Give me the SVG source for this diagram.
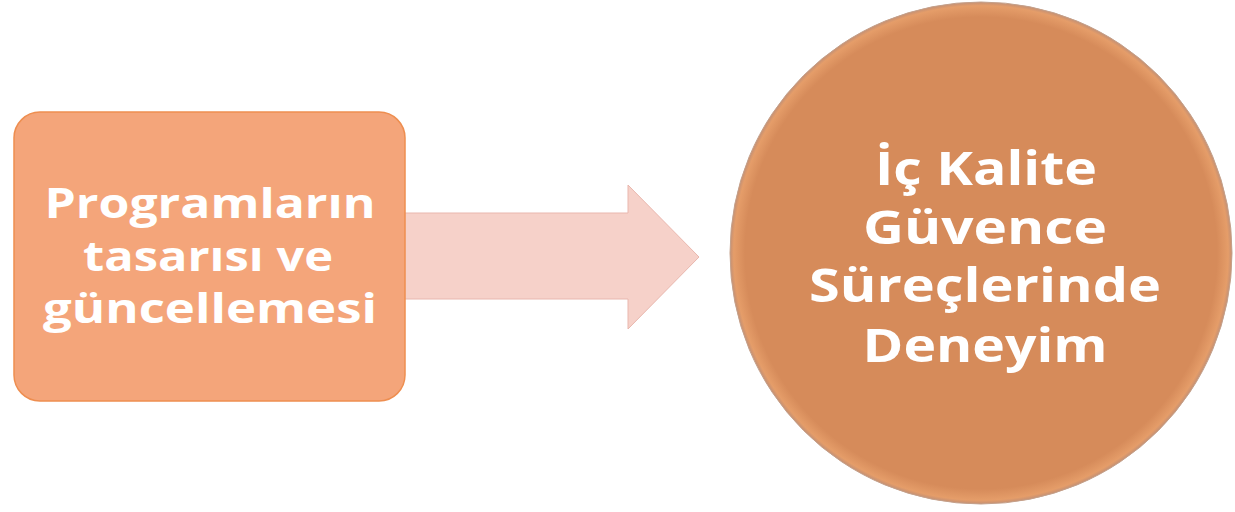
<svg xmlns="http://www.w3.org/2000/svg" width="1235" height="512" viewBox="0 0 1235 512">
<style>
.lbl{font-family:"Open Sans","Liberation Sans",sans-serif;font-weight:700;fill:#FFFFFF;text-anchor:middle}
.box{fill:#F4A57A;stroke:#EE8E50;stroke-width:1.5}
.arrow{fill:#F6D1C9;stroke:#E9B7AE;stroke-width:1}
.circ{fill:url(#cg);stroke:#C4A08A;stroke-width:1}
</style>
<defs>
<radialGradient id="cg" cx="0.5" cy="0.5" r="0.5">
<stop offset="0" stop-color="#D68B5A"/>
<stop offset="0.94" stop-color="#D68B5A"/>
<stop offset="0.985" stop-color="#E59D69"/>
<stop offset="1" stop-color="#C49074"/>
</radialGradient>
</defs>
<g id="connectors">
<path class="arrow" d="M400,213 L628,213 L628,185 L699,257 L628,329 L628,299 L400,299 Z"/>
</g>
<g id="node-programs">
<rect class="box" x="14" y="112" width="391" height="289" rx="26" ry="26"/>
<text class="lbl" font-size="42" x="210" y="218" textLength="331" lengthAdjust="spacingAndGlyphs">Programların</text>
<text class="lbl" font-size="42" x="208" y="271" textLength="250" lengthAdjust="spacingAndGlyphs">tasarısı ve</text>
<text class="lbl" font-size="42" x="210" y="323" textLength="334" lengthAdjust="spacingAndGlyphs">güncellemesi</text>
</g>
<g id="node-quality">
<circle class="circ" cx="981" cy="253" r="251"/>
<text class="lbl" font-size="46" x="986" y="185" textLength="222" lengthAdjust="spacingAndGlyphs">İç Kalite</text>
<text class="lbl" font-size="46" x="985" y="244" textLength="244" lengthAdjust="spacingAndGlyphs">Güvence</text>
<text class="lbl" font-size="46" x="985" y="302" textLength="352" lengthAdjust="spacingAndGlyphs">Süreçlerinde</text>
<text class="lbl" font-size="46" x="985" y="362" textLength="245" lengthAdjust="spacingAndGlyphs">Deneyim</text>
</g>
</svg>
